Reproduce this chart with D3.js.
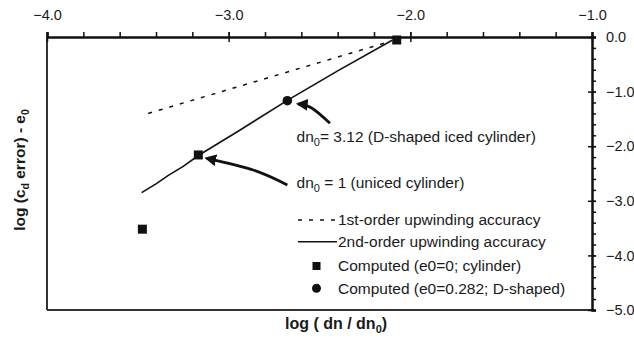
<!DOCTYPE html>
<html>
<head>
<meta charset="utf-8">
<script src="https://cdn.jsdelivr.net/npm/d3@7"></script>
<style>
  body { margin: 0; background: #fff; }
  text { font-family: "Liberation Sans", Arial, sans-serif; fill: #1a1a1a; }
</style>
</head>
<body>
<svg id="chart"></svg>
<script>
// values
const xTicks = [-4.0, -3.0, -2.0, -1.0];
const yTicks = [0.0, -1.0, -2.0, -3.0, -4.0, -5.0];

const firstOrder = [[-3.443, -1.40], [-2.14, -0.11]];
const secondOrder = [[-3.479, -2.85], [-3.40, -2.69], [-3.33, -2.53], [-3.25, -2.37],
                     [-3.167, -2.17], [-2.95, -1.73], [-2.677, -1.16], [-2.40, -0.62], [-2.10, -0.06]];
const cylinderPts = [[-2.075, -0.055], [-3.167, -2.16], [-3.475, -3.52]];
const dShapedPts = [[-2.677, -1.167]];

const notes = [
  { sub: "= 3.12 (D-shaped iced cylinder)", at: [-2.626, -1.918],
    arrow: [[-2.4425, -1.58], [-2.543, -1.30], [-2.617, -1.227]] },
  { sub: " = 1 (uniced cylinder)", at: [-2.626, -2.766],
    arrow: [[-2.677, -2.71], [-2.865, -2.436], [-3.121, -2.222]] }
];

const legendItems = ["1st-order upwinding accuracy", "2nd-order upwinding accuracy",
                     "Computed (e0=0; cylinder)", "Computed (e0=0.282; D-shaped)"];

const width = 634, height = 347;
const mLeft = 47, mRight = 592, mTop = 37, mBottom = 310;

const svg = d3.select("#chart").attr("width", width).attr("height", height);

const x = d3.scaleLinear().domain([-4, -1]).range([mLeft, mRight]);
const y = d3.scaleLinear().domain([0, -5]).range([mTop, mBottom]);

// frame
svg.append("line").attr("x1", mLeft).attr("x2", mLeft).attr("y1", mTop).attr("y2", mBottom)
  .attr("stroke", "#333").attr("stroke-width", 2);
svg.append("line").attr("x1", mLeft).attr("x2", mRight).attr("y1", mBottom).attr("y2", mBottom)
  .attr("stroke", "#333").attr("stroke-width", 2);

// top axis
const minorX = d3.range(-4, -1.0001, 0.2);
const gTop = svg.append("g").attr("transform", `translate(0,${mTop})`);
gTop.append("g").call(d3.axisTop(x).tickValues(minorX).tickSize(5).tickFormat(""))
  .call(g => g.select(".domain").remove())
  .selectAll("line").attr("stroke", "#111").attr("stroke-width", 1.5);
gTop.append("g").call(d3.axisTop(x).tickValues(xTicks).tickSize(5).tickFormat(d3.format(".1f")))
  .call(g => g.select(".domain").attr("stroke", "#111").attr("stroke-width", 2.5))
  .call(g => g.selectAll("line").attr("stroke", "#111").attr("stroke-width", 1.5).attr("y2", -5).attr("y1", 5))
  .call(g => g.selectAll("text").attr("font-size", 14.5).attr("fill", "#1a1a1a")
    .attr("font-family", "Liberation Sans, Arial, sans-serif").attr("dy", -9));

// right axis
const minorY = d3.range(0, -5.0001, -0.2);
const gRight = svg.append("g").attr("transform", `translate(${mRight},0)`);
gRight.append("g").call(d3.axisRight(y).tickValues(minorY).tickSize(4).tickFormat(""))
  .call(g => g.select(".domain").remove())
  .selectAll("line").attr("stroke", "#111").attr("stroke-width", 1.5);
gRight.append("g").call(d3.axisRight(y).tickValues(yTicks).tickSize(4).tickPadding(10).tickFormat(d3.format(".1f")))
  .call(g => g.select(".domain").attr("stroke", "#111").attr("stroke-width", 2.5))
  .call(g => g.selectAll("line").attr("stroke", "#111").attr("stroke-width", 1.5).attr("x1", -4).attr("x2", 4))
  .call(g => g.selectAll("text").attr("font-size", 14.5).attr("fill", "#1a1a1a")
    .attr("font-family", "Liberation Sans, Arial, sans-serif"));

// lines
const line = d3.line().x(d => x(d[0])).y(d => y(d[1]));
svg.append("path").attr("d", line(firstOrder)).attr("fill", "none")
  .attr("stroke", "#111").attr("stroke-width", 1.5).attr("stroke-dasharray", "4,7");
svg.append("path").attr("d", line(secondOrder)).attr("fill", "none")
  .attr("stroke", "#111").attr("stroke-width", 1.6);

// points
svg.append("g").selectAll("rect").data(cylinderPts).join("rect")
  .attr("x", d => x(d[0]) - 4.5).attr("y", d => y(d[1]) - 4.5)
  .attr("width", 9).attr("height", 9).attr("fill", "#111");
svg.append("g").selectAll("circle").data(dShapedPts).join("circle")
  .attr("cx", d => x(d[0])).attr("cy", d => y(d[1])).attr("r", 4.8).attr("fill", "#111");

// annotations
svg.append("defs").append("marker").attr("id", "head")
  .attr("viewBox", "0 0 10 10").attr("refX", 8).attr("refY", 5)
  .attr("markerWidth", 4.2).attr("markerHeight", 4.2).attr("orient", "auto")
  .attr("markerUnits", "strokeWidth")
  .append("path").attr("d", "M0,0 L10,5 L0,10 z").attr("fill", "#111");

const curve = d3.line().x(d => x(d[0])).y(d => y(d[1])).curve(d3.curveNatural);
notes.forEach(n => {
  svg.append("path").attr("d", curve(n.arrow)).attr("fill", "none")
    .attr("stroke", "#111").attr("stroke-width", 2.8).attr("marker-end", "url(#head)");
  const t = svg.append("text").attr("x", x(n.at[0])).attr("y", y(n.at[1])).attr("font-size", 15.5);
  t.append("tspan").text("dn");
  t.append("tspan").text("0").attr("font-size", 11).attr("dy", 4);
  t.append("tspan").text(n.sub).attr("dy", -4);
});

// legend
const lg = svg.append("g").attr("transform", "translate(298,220)");
const rowH = [0, 21.7, 46, 68.3];
lg.append("line").attr("x1", 0).attr("x2", 39).attr("y1", 0).attr("y2", 0)
  .attr("stroke", "#111").attr("stroke-width", 1.5).attr("stroke-dasharray", "4,7");
lg.append("line").attr("x1", 0).attr("x2", 39).attr("y1", rowH[1]).attr("y2", rowH[1])
  .attr("stroke", "#111").attr("stroke-width", 1.6);
lg.append("rect").attr("x", 14.5).attr("y", rowH[2] - 4).attr("width", 8).attr("height", 8).attr("fill", "#111");
lg.append("circle").attr("cx", 18.5).attr("cy", rowH[3]).attr("r", 4.5).attr("fill", "#111");
lg.selectAll("text.leg").data(legendItems).join("text").attr("class", "leg")
  .attr("x", 40).attr("y", (d, i) => rowH[i] + 5.3)
  .attr("font-size", 15.5).text(d => d);

// axis titles
const yt = svg.append("text").attr("transform", "translate(25,170) rotate(-90)")
  .attr("text-anchor", "middle").attr("font-size", 15.5).attr("font-weight", "bold");
yt.append("tspan").text("log (c");
yt.append("tspan").text("d").attr("font-size", 10.5).attr("dy", 4);
yt.append("tspan").text(" error) - e").attr("dy", -4);
yt.append("tspan").text("0").attr("font-size", 10.5).attr("dy", 4);

const xt = svg.append("text").attr("x", 285).attr("y", 329)
  .attr("font-size", 16).attr("font-weight", "bold");
xt.append("tspan").text("log ( dn / dn");
xt.append("tspan").text("0").attr("font-size", 11).attr("dy", 4);
xt.append("tspan").text(")").attr("dy", -4);
</script>
</body>
</html>
